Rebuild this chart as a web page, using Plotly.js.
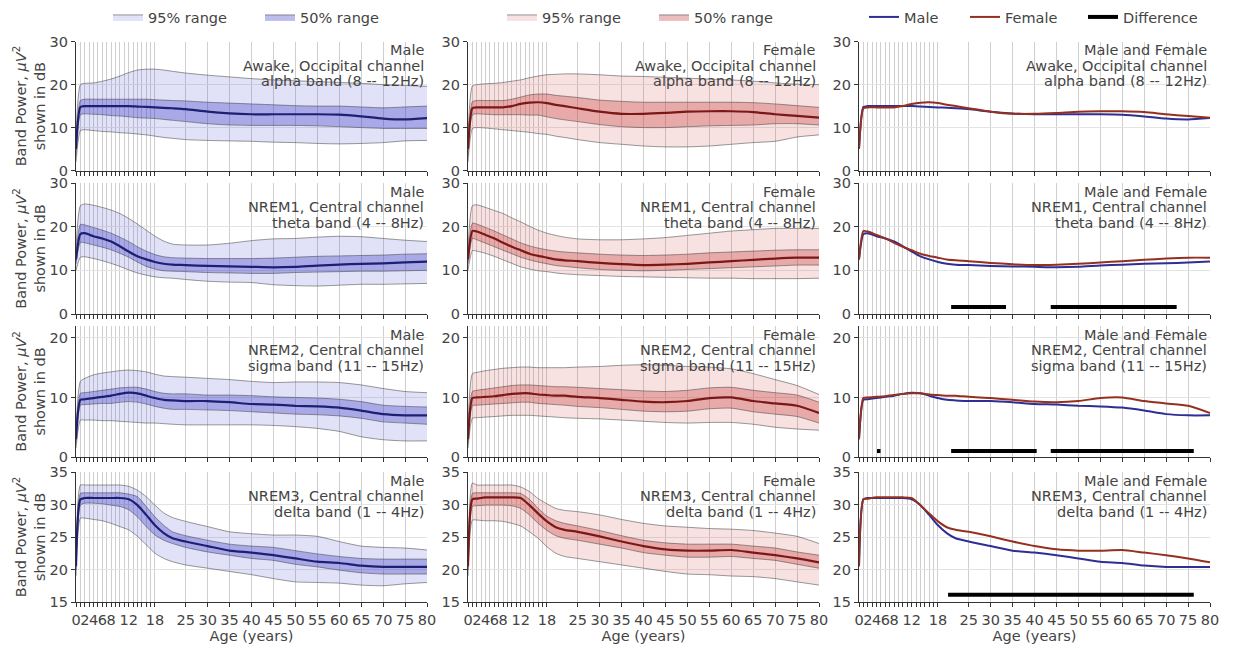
<!DOCTYPE html>
<html><head><meta charset="utf-8">
<script src="https://cdn.plot.ly/plotly-3.0.1.min.js"></script>
<style>html,body{margin:0;padding:0;background:#fff}#chart{width:1233px;height:648px}</style>
</head><body><div id="chart"></div>
<script>
// ---------------- DATA ----------------
const AGE = [0,1,2,4,6,8,10,12,14,16,18,20,22,25,30,35,40,45,50,55,60,65,70,75,80];

// Awake, occipital, alpha band
const M_AWAKE_MED = [5,14.8,15,15,15,15,15,15,14.9,14.8,14.7,14.6,14.5,14.3,13.7,13.3,13.1,13.1,13.1,13.1,13,12.6,12.1,11.9,12.2];
const M_AWAKE_50U = [6.5,16.3,16.6,16.6,16.6,16.6,16.6,16.6,16.6,16.6,16.5,16.4,16.3,16.2,15.9,15.7,15.5,15.3,15.1,15,15,14.8,14.6,14.8,15];
const M_AWAKE_50L = [3.5,13,13.2,13.1,13,12.8,12.7,12.5,12.3,12.2,12.1,11.9,11.7,11.4,10.9,10.6,10.5,10.5,10.5,10.4,10.2,10,9.8,9.8,9.8];
const M_AWAKE_95U = [8,20,20.3,20.4,20.8,21.3,22,22.8,23.4,23.6,23.6,23.4,23.1,22.7,22.2,21.8,21.4,21.1,20.9,20.7,20.5,20.3,20,19.8,19.6];
const M_AWAKE_95L = [2,9.3,9.5,9.3,9.1,9,8.8,8.7,8.5,8.3,8,7.7,7.5,7.2,7,6.9,6.8,6.6,6.5,6.3,6.2,6.3,6.5,6.9,7];

const F_AWAKE_MED = [5,14.5,14.7,14.7,14.7,14.7,15,15.5,15.8,15.9,15.7,15.3,15,14.5,13.7,13.2,13.2,13.4,13.7,13.8,13.8,13.6,13.1,12.7,12.3];
const F_AWAKE_50U = [6.5,16,16.3,16.3,16.3,16.3,16.6,17.1,17.6,17.8,17.8,17.5,17.3,17,16.4,16.1,15.9,15.9,15.9,15.9,15.9,15.8,15.5,15.1,14.7];
const F_AWAKE_50L = [3.5,13,13.2,13.1,13,13,13,13,12.9,12.9,12.5,12.1,11.8,11.4,10.7,10.2,10,10,10.2,10.4,10.5,10.6,10.9,10.9,10.6];
const F_AWAKE_95U = [8,19.7,20,20.2,20.3,20.5,20.8,21.1,21.6,22,22.3,22.4,22.5,22.5,22.3,22,21.9,21.7,21.5,21.3,21.1,20.8,20.4,20.1,20];
const F_AWAKE_95L = [2,9.8,10,9.9,9.7,9.5,9.3,9.1,8.9,8.6,8.4,8,7.7,7.2,6.5,6.1,5.7,5.5,5.5,5.7,6.1,6.5,6.8,7.8,8.3];

// NREM1, central, theta band
const M_N1_MED = [12.5,18.3,18.5,17.8,17.3,16.6,15.5,14.3,13.2,12.5,11.9,11.5,11.3,11.2,11,10.9,10.8,10.7,10.8,11.1,11.3,11.5,11.6,11.8,12];
const M_N1_50U = [13.5,20.5,20.4,19.8,19.2,18.5,17.6,16.6,15.4,14.4,13.6,13.1,12.9,12.8,12.7,12.7,12.7,12.8,13,13.2,13.3,13.4,13.5,13.7,13.8];
const M_N1_50L = [11.5,16.4,16.3,15.8,15.3,14.7,13.9,13,11.9,10.9,10.3,9.9,9.8,9.7,9.5,9.4,9.3,9.3,9.5,9.6,9.7,9.8,9.8,9.9,10];
const M_N1_95U = [15,24.8,25.2,24.9,24.4,23.8,23,21.9,20.6,19.2,17.8,16.7,16,15.8,15.8,16.2,16.8,17.2,17.3,17.6,17.8,17.7,17.3,16.9,16.6];
const M_N1_95L = [10,13,13.1,12.7,12.2,11.6,10.9,10.1,9.4,8.9,8.5,8.3,8.2,7.9,7.5,7.3,7.2,6.7,6.5,6.4,6.6,6.8,6.8,6.9,7];

const F_N1_MED = [12.5,19,18.9,18.1,17.3,16.3,15.4,14.6,13.8,13.3,12.9,12.5,12.3,12.1,11.7,11.4,11.2,11.3,11.5,11.8,12.1,12.4,12.7,12.9,12.9];
const F_N1_50U = [13.5,20.8,20.6,19.8,19,18.1,17.2,16.3,15.6,15.1,14.7,14.4,14.2,14,13.7,13.5,13.4,13.5,13.7,14,14.2,14.4,14.6,14.7,14.7];
const F_N1_50L = [11.5,17.3,17,16.2,15.4,14.6,13.8,13,12.4,11.9,11.5,11.1,10.9,10.6,10.2,10,9.9,10,10.2,10.4,10.6,10.8,11,11.2,11.2];
const F_N1_95U = [15,24.8,25,24.4,23.7,23,22,21.1,20.1,19.2,18.5,18,17.6,17.2,17,17,17.2,17.5,18,18.5,19,19.3,19.6,19.6,19.6];
const F_N1_95L = [10,14.5,14.4,13.9,13.2,12.4,11.6,10.8,10.3,9.9,9.7,9.4,9.2,9,8.8,8.6,8.5,8.4,8.3,8.2,8.2,8.1,8.1,8.1,8.2];

// NREM2, central, sigma band
const M_N2_MED = [3,9.6,9.7,9.9,10.1,10.3,10.6,10.8,10.7,10.3,9.9,9.6,9.5,9.4,9.4,9.2,8.9,8.8,8.6,8.5,8.3,7.8,7.2,7,7];
const M_N2_50U = [3.8,10.7,10.8,11,11.2,11.4,11.6,11.7,11.7,11.4,11,10.7,10.6,10.6,10.4,10.4,10.3,10.1,10,9.9,9.7,9.3,8.7,8.5,8.4];
const M_N2_50L = [2.3,8.7,8.8,8.9,9,9,9.2,9.3,9.2,8.9,8.5,8.2,8,8,7.9,7.8,7.6,7.4,7.2,7.1,6.9,6.5,5.9,5.7,5.5];
const M_N2_95U = [5,12.7,13.2,13.8,14.1,14.3,14.5,14.6,14.5,14.3,13.9,13.6,13.5,13.4,13.2,13,12.7,12.5,12.6,12.6,12.5,12.1,11.5,11,10.8];
const M_N2_95L = [1.5,6.2,6.2,6.2,6.1,6.1,6,5.9,5.8,5.7,5.7,5.6,5.5,5.4,5.4,5.4,5.4,5.3,5.1,4.8,4.3,3.4,2.9,2.7,2.7];

const F_N2_MED = [3,9.9,10,10.1,10.2,10.4,10.6,10.7,10.7,10.5,10.4,10.3,10.3,10.1,9.9,9.6,9.3,9.2,9.4,9.9,10,9.4,9,8.6,7.4];
const F_N2_50U = [3.8,11,11.2,11.4,11.6,11.8,12,12.1,12.1,12,11.9,11.8,11.8,11.7,11.5,11.3,11.1,11,11.2,11.6,11.7,11.2,10.8,10.4,9.2];
const F_N2_50L = [2.3,8.6,8.7,8.8,8.9,9,9.1,9.2,9.2,9,8.9,8.8,8.7,8.5,8.3,8,7.7,7.6,7.7,8.1,8.2,7.6,7.2,6.8,5.7];
const F_N2_95U = [5,14,14.2,14.5,14.7,14.9,15,15.1,15.1,15,15,15,15,15.1,15.2,15.4,15.5,15.4,15.2,15.1,14.8,14,13,12,10.5];
const F_N2_95L = [1.5,6.5,6.6,6.7,6.8,6.9,7,7,7,6.9,6.8,6.7,6.6,6.5,6.4,6.2,6,5.8,5.7,5.8,5.8,5.5,5,4.7,4.5];

// NREM3, central, delta band
const M_N3_MED = [20.5,30.8,31,31,31,31,31,30.8,29.9,28.4,26.8,25.6,24.8,24.3,23.6,22.9,22.6,22.2,21.7,21.2,21,20.6,20.4,20.4,20.4];
const M_N3_50U = [21,31.7,31.8,31.8,31.8,31.8,31.8,31.6,31.2,29.7,28.1,26.8,25.8,25.2,24.5,23.9,23.6,23.4,22.9,22.4,22,21.7,21.6,21.6,21.6];
const M_N3_50L = [20,29.9,30.2,30.2,30.1,29.9,29.7,29.2,28.1,26.6,25.3,24.5,24,23.4,22.7,22.2,21.7,21.4,20.8,20.4,19.9,19.5,19.3,19.3,19.3];
const M_N3_95U = [22,33,33,33,33,33,33,32.8,32.2,31.2,29.9,28.7,28,27.4,26.6,25.8,25.5,25.3,25.3,25.1,24.3,23.6,23.4,23.3,23];
const M_N3_95L = [19,27.9,27.9,27.7,27.5,27.1,26.6,26.1,25.1,23.8,22.5,21.7,21.2,20.7,20.2,19.7,19.2,18.6,18.1,18,17.9,17.6,17.5,17.8,18];

const F_N3_MED = [20.5,30.8,30.9,31.1,31.1,31.1,31.1,31,29.9,28.6,27.4,26.5,26.1,25.8,25.1,24.3,23.6,23.1,22.9,22.9,23,22.6,22.2,21.7,21.1];
const F_N3_50U = [21,31.7,31.8,31.8,31.8,31.8,31.8,31.7,30.8,29.4,28.2,27.5,27.1,26.7,26,25.2,24.5,24.1,23.9,23.9,23.9,23.6,23.3,22.7,22.2];
const F_N3_50L = [20,29.7,29.8,29.9,29.9,29.9,29.8,29.4,28.4,27.1,26,25.2,24.8,24.5,23.9,23.3,22.6,22.2,21.9,21.9,22,21.7,21.4,20.8,20.2];
const F_N3_95U = [22,33.3,33,33,33,33,33,32.7,32,30.9,30.1,29.4,29.1,28.9,28.4,27.7,27.1,26.7,26.5,26.3,26.2,26,25.6,25.1,24];
const F_N3_95L = [19,27.6,27.6,27.5,27.5,27.4,27.1,26.7,25.8,24.8,23.5,22.5,22,21.7,21.2,20.7,20.2,19.7,19.3,19.2,19,18.9,18.6,18.1,17.6];

// Age ranges where the Male / Female difference is significant
const DIFF_N1_START = [21, 43.7];
const DIFF_N1_END   = [33.5, 72.4];
const DIFF_N2_START = [4.1, 21, 43.7];
const DIFF_N2_END   = [4.9, 40.5, 76.3];
const DIFF_N3_START = [20.3];
const DIFF_N3_END   = [76.3];

// Tick labels
const X_TICKS = [0,2,4,6,8,12,18,25,30,35,40,45,50,55,60,65,70,75,80];
const X_TICK_TEXT = ['0','2','4','6','8','12','18','25','30','35','40','45','50','55','60','65','70','75','80'];
const X_MINOR_TICKS = [1,3,5,7,9,10,11,13,14,15,16,17];
const ROW_TITLES = [
  ['Awake, Occipital channel', 'alpha band (8 -- 12Hz)'],
  ['NREM1, Central channel', 'theta band (4 -- 8Hz)'],
  ['NREM2, Central channel', 'sigma band (11 -- 15Hz)'],
  ['NREM3, Central channel', 'delta band (1 -- 4Hz)']
];
const COL_TITLES = ['Male', 'Female', 'Male and Female'];
const Y_TICKS = [[0,10,20,30],[0,10,20,30],[0,10,20],[15,20,25,30,35]];
const Y_RANGES = [[0,30],[0,30],[0,22],[15,35]];

// ---------------- BUILD ----------------
const W = 1233, H = 648;
const COLS_PX = [[76,427],[468,819],[859,1210]];
const ROWS_PX = [[41.7,170.5],[183,314],[326,457],[472,602]];
const FONT = 'DejaVu Sans, Verdana, sans-serif';
const TXT = '#444';
const FS = 14.5;

const STY = {
  Male:   {f95:'rgba(70,70,205,0.16)', f50:'rgba(70,70,205,0.36)', med:'#1f1f72'},
  Female: {f95:'rgba(205,70,70,0.16)', f50:'rgba(205,70,70,0.36)', med:'#7a1818'}
};
const EDGE = 'rgba(70,70,70,0.55)';
const CMP_MALE = '#2e2e94', CMP_FEMALE = '#952f1f';

const BANDS = {
  Male: [
    [M_AWAKE_95L,M_AWAKE_95U,M_AWAKE_50L,M_AWAKE_50U,M_AWAKE_MED],
    [M_N1_95L,M_N1_95U,M_N1_50L,M_N1_50U,M_N1_MED],
    [M_N2_95L,M_N2_95U,M_N2_50L,M_N2_50U,M_N2_MED],
    [M_N3_95L,M_N3_95U,M_N3_50L,M_N3_50U,M_N3_MED]
  ],
  Female: [
    [F_AWAKE_95L,F_AWAKE_95U,F_AWAKE_50L,F_AWAKE_50U,F_AWAKE_MED],
    [F_N1_95L,F_N1_95U,F_N1_50L,F_N1_50U,F_N1_MED],
    [F_N2_95L,F_N2_95U,F_N2_50L,F_N2_50U,F_N2_MED],
    [F_N3_95L,F_N3_95U,F_N3_50L,F_N3_50U,F_N3_MED]
  ]
};
const DIFFS = [null, [DIFF_N1_START,DIFF_N1_END], [DIFF_N2_START,DIFF_N2_END], [DIFF_N3_START,DIFF_N3_END]];
const DIFF_LEVEL = [null, 1.6, 1.0, 16.1];

const data = [];
const layout = {
  width: W, height: H, margin:{l:0,r:0,t:0,b:0},
  paper_bgcolor:'#fff', plot_bgcolor:'#fff',
  font:{family:FONT, size:FS, color:TXT},
  showlegend:true, annotations:[]
};
const SPL = {shape:'spline', smoothing:0.6};
function ax(r,c){ return r*3+c+1; }

['Male','Female'].forEach((sex,c)=>{
  const leg = c===0 ? 'legend' : 'legend2';
  for(let r=0;r<4;r++){
    const n = ax(r,c);
    const [l95,u95,l50,u50,med] = BANDS[sex][r];
    const xa='x'+n, ya='y'+n, st=STY[sex];
    data.push({x:AGE,y:l95,xaxis:xa,yaxis:ya,mode:'lines',line:Object.assign({color:EDGE,width:1},SPL),showlegend:false,hoverinfo:'skip',legend:leg});
    data.push({x:AGE,y:u95,xaxis:xa,yaxis:ya,mode:'lines',fill:'tonexty',fillcolor:st.f95,line:Object.assign({color:EDGE,width:1},SPL),name:'95% range',showlegend:r===0,legend:leg,legendwidth:107});
    data.push({x:AGE,y:l50,xaxis:xa,yaxis:ya,mode:'lines',line:Object.assign({color:EDGE,width:1},SPL),showlegend:false,hoverinfo:'skip',legend:leg});
    data.push({x:AGE,y:u50,xaxis:xa,yaxis:ya,mode:'lines',fill:'tonexty',fillcolor:st.f50,line:Object.assign({color:EDGE,width:1},SPL),name:'50% range',showlegend:r===0,legend:leg});
    data.push({x:AGE,y:med,xaxis:xa,yaxis:ya,mode:'lines',line:Object.assign({color:st.med,width:2.2},SPL),name:sex+' median',showlegend:false,legend:leg});
  }
});
for(let r=0;r<4;r++){
  const n = ax(r,2);
  data.push({x:AGE,y:BANDS.Male[r][4],xaxis:'x'+n,yaxis:'y'+n,mode:'lines',line:Object.assign({color:CMP_MALE,width:2},SPL),name:'Male',showlegend:r===0,legend:'legend3',legendwidth:56});
  data.push({x:AGE,y:BANDS.Female[r][4],xaxis:'x'+n,yaxis:'y'+n,mode:'lines',line:Object.assign({color:CMP_FEMALE,width:2},SPL),name:'Female',showlegend:r===0,legend:'legend3',legendwidth:73});
}
let diffShown=false;
for(let r=0;r<4;r++){
  if(!DIFFS[r]) continue;
  const n = ax(r,2);
  const xs=[], ys=[];
  DIFFS[r][0].forEach((s,i)=>{ xs.push(s, DIFFS[r][1][i], null); ys.push(DIFF_LEVEL[r], DIFF_LEVEL[r], null); });
  data.push({x:xs,y:ys,xaxis:'x'+n,yaxis:'y'+n,mode:'lines',line:{color:'#000',width:4},connectgaps:false,name:'Difference',showlegend:!diffShown,legend:'legend3'});
  diffShown=true;
}

for(let r=0;r<4;r++){
  for(let c=0;c<3;c++){
    const n = ax(r,c);
    const xk = n===1?'xaxis':'xaxis'+n, yk = n===1?'yaxis':'yaxis'+n;
    layout[xk] = {
      domain:[COLS_PX[c][0]/W, COLS_PX[c][1]/W], anchor:'y'+n, range:[0,80],
      tickmode:'array', tickvals:X_TICKS, ticktext:X_TICK_TEXT, showticklabels:r===3, tickangle:0,
      ticks:'outside', ticklen:4, tickwidth:1, tickcolor:'#333',
      showgrid:true, gridcolor:'#cfcfcf', gridwidth:1,
      minor:{tickmode:'array', tickvals:X_MINOR_TICKS, ticks:'outside', ticklen:4, tickwidth:1, tickcolor:'#333', showgrid:true, gridcolor:'#cfcfcf', gridwidth:1},
      showline:true, linecolor:'#333', linewidth:1.2, zeroline:false,
      tickfont:{size:FS,color:TXT}, fixedrange:true
    };
    if(r===3) layout[xk].title = {text:'Age (years)', font:{size:FS,color:TXT}, standoff:0};
    layout[yk] = {
      domain:[1-ROWS_PX[r][1]/H, 1-ROWS_PX[r][0]/H], anchor:'x'+n, range:Y_RANGES[r],
      tickmode:'array', tickvals:Y_TICKS[r],
      ticks:'outside', ticklen:4, tickwidth:1, tickcolor:'#333',
      showgrid:true, gridcolor:'#e3e3e3', gridwidth:1,
      showline:true, linecolor:'#333', linewidth:1.2, zeroline:false,
      tickfont:{size:FS,color:TXT}, fixedrange:true
    };
    if(c===0) layout[yk].title = {text:'Band Power, <i>μV</i><sup>2</sup><br>shown in dB', font:{size:FS,color:TXT}, standoff:0};
    const lines = [COL_TITLES[c], ROW_TITLES[r][0], ROW_TITLES[r][1]];
    lines.forEach((t,i)=>{
      layout.annotations.push({text:t, xref:'x'+n+' domain', yref:'y'+n+' domain', x:1, y:1,
        xanchor:'right', yanchor:'middle', yshift:-(8.5+i*15.6), xshift:-1, showarrow:false,
        font:{size:FS,color:TXT}});
    });
  }
}
const legBase = {orientation:'h', traceorder:'normal', yanchor:'middle', xanchor:'left', y:1-17/H, bgcolor:'rgba(0,0,0,0)', font:{size:FS,color:TXT}, itemwidth:30};
layout.legend  = Object.assign({}, legBase, {x:108/W});
layout.legend2 = Object.assign({}, legBase, {x:502/W});
layout.legend3 = Object.assign({}, legBase, {x:864/W});

Plotly.newPlot('chart', data, layout, {displayModeBar:false, staticPlot:true});
</script>
</body></html>
